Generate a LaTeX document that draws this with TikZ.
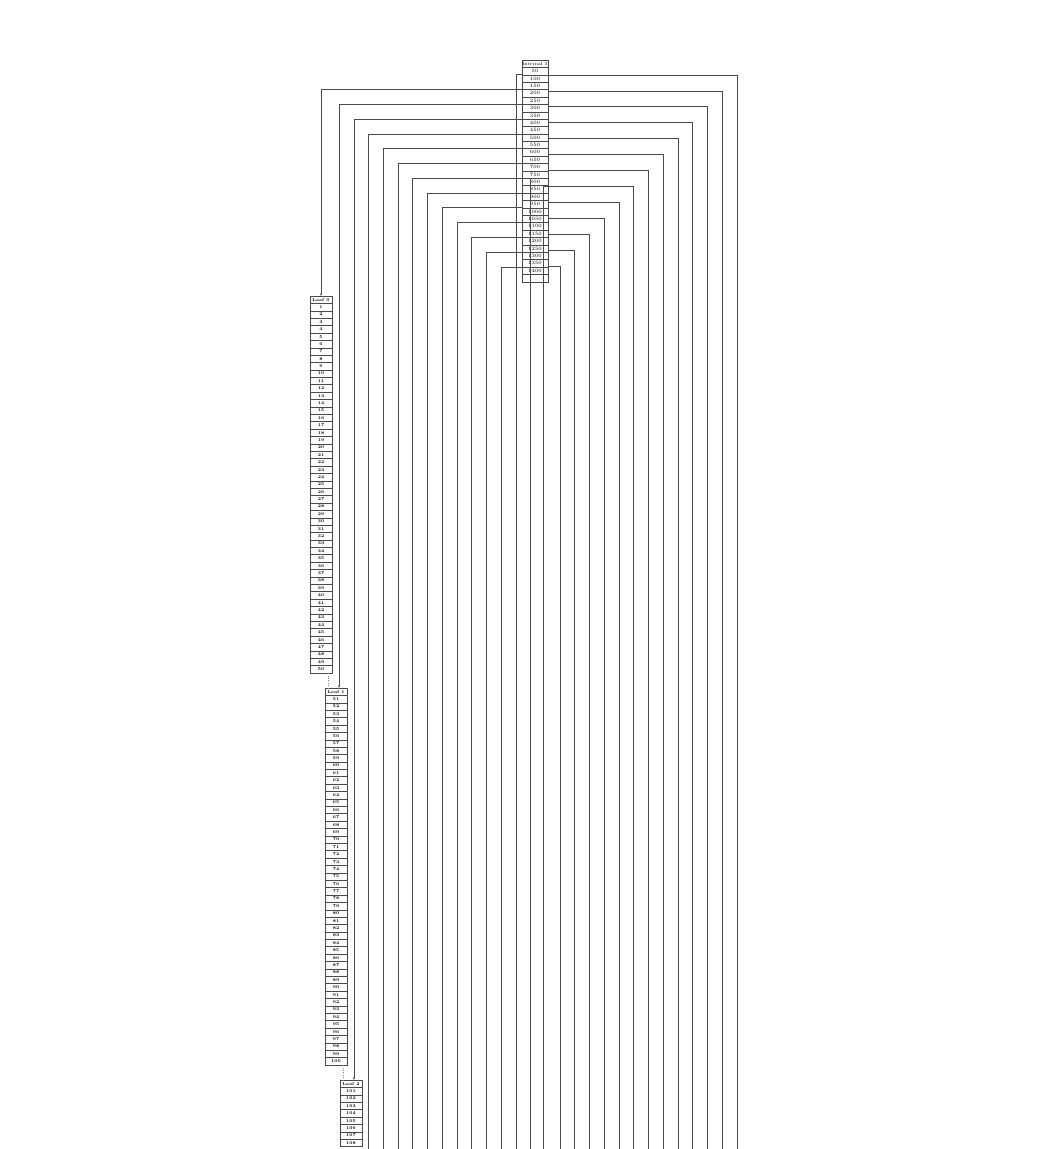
\documentclass[tikz,border=0pt]{standalone}
\usepackage{tikz}
\usetikzlibrary{arrows.meta}
\definecolor{TreeLine}{HTML}{4A4A4A}
\definecolor{TreeNext}{HTML}{808080}

\begin{document}
\begin{tikzpicture}[x=1pt,y=-1pt,
  cell/.style={draw=TreeLine,line width=.4pt,minimum width=26pt,minimum height=7.39pt,
    inner sep=0pt,font=\fontsize{5}{5}\selectfont},
  leafcell/.style={cell,minimum width=22pt,font=\fontsize{4.2}{4.2}\selectfont\bfseries},
  ptr/.style={TreeLine,line width=.4pt},
  ptrtip/.style={ptr,-{Stealth[length=2.6pt,width=2.2pt]}},
  nextptr/.style={TreeNext,line width=.4pt,dotted}]
  \useasboundingbox (0,0) rectangle (1044,1149);
  % internal node
  \node[cell,font=\fontsize{4.3}{4.3}\selectfont] (int3-h) at (535,63.7) {Internal 3};
  \foreach \k [evaluate=\k as \key using int(50*\k)] in {1,...,28}
    \node[cell] (int3-\k) at (535,{63.7+7.39*\k}) {\key};
  \node[cell] (int3-29) at (535,{63.7+7.39*29}) {};
  % leaves
  \foreach \j/\n in {0/50,1/50,2/8} {
    \node[leafcell] (leaf\j-h) at ({321+15*\j},{299.7+392*\j}) {Leaf \j};
    \foreach \m [evaluate=\m as \key using int(50*\j+\m)] in {1,...,\n}
      \node[leafcell] (leaf\j-\m) at ({321+15*\j},{299.7+392*\j+7.39*\m}) {\key};
  }
  % next-leaf pointers
  \coordinate (nx1) at ([xshift=3pt]leaf1-h.north west);
  \coordinate (nx2) at ([xshift=3pt]leaf2-h.north west);
  \draw[nextptr] (nx1 |- leaf0-50.south) -- (nx1);
  \draw[nextptr] (nx2 |- leaf1-50.south) -- (nx2);
  % child pointers, left side
  \draw[ptrtip] (int3-4.north west) -| (leaf0-h.north);
  \draw[ptrtip] (int3-6.north west) -| ([xshift=3pt]leaf1-h.north);
  \draw[ptrtip] (int3-8.north west) -| ([xshift=3pt]leaf2-h.north);
  \foreach \k in {3,...,12} {
    \coordinate (leaf\k-in) at ({339+14.73*(\k-1)},1149);
    \pgfmathtruncatemacro\r{4+2*\k}
    \draw[ptr] (int3-\r.north west) -| (leaf\k-in);
  }
  % child pointers, middle
  \coordinate (leaf13-in) at (515.8,1149);
  \coordinate (leaf14-in) at (530.5,1149);
  \coordinate (leaf15-in) at (543,1149);
  \draw[ptr] (int3-2.north west) -| (leaf13-in);
  \draw[ptr] (int3-16.north west) -| (leaf14-in);
  \draw[ptr] ([yshift=-126.4pt]int3-h.north east) -| (leaf15-in);
  % child pointers, right side
  \foreach \k in {16,...,28} {
    \coordinate (leaf\k-in) at ({339+14.73*(\k-1)},1149);
    \pgfmathsetmacro\dy{15+15.92*(28-\k)}
    \draw[ptr] ([yshift=-\dy pt]int3-h.north east) -| (leaf\k-in);
  }
\end{tikzpicture}
\end{document}
